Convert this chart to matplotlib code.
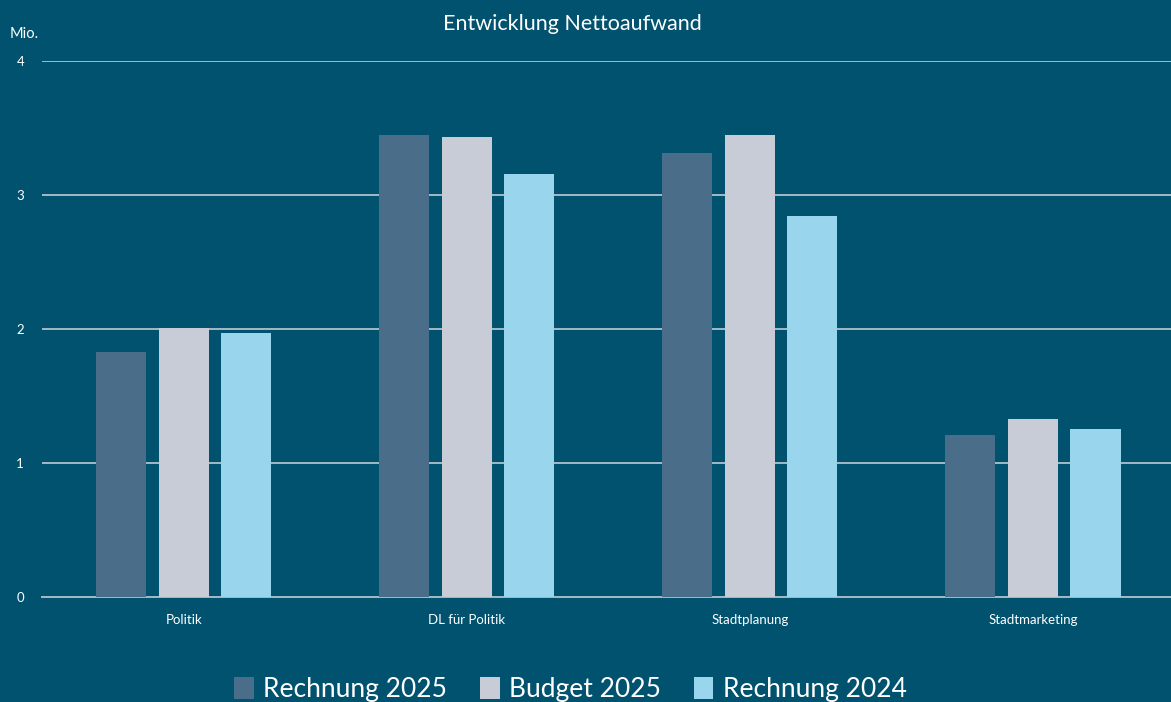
import numpy as np
import matplotlib
matplotlib.use("Agg")
import matplotlib.pyplot as plt

plt.rcParams["font.family"] = ["Lato", "DejaVu Sans"]

categories = ["Politik", "DL für Politik", "Stadtplanung", "Stadtmarketing"]
series_names = ["Rechnung 2025", "Budget 2025", "Rechnung 2024"]
rechnung_2025 = [1.83, 3.45, 3.31, 1.21]
budget_2025 = [2.01, 3.43, 3.45, 1.33]
rechnung_2024 = [1.97, 3.16, 2.84, 1.25]
yticks = [0, 1, 2, 3, 4]

bg = "#00526E"
colors = ["#4A6E89", "#C8CCD6", "#9AD5EE"]

fig = plt.figure(figsize=(11.71, 7.02), dpi=100, facecolor=bg)
ax = fig.add_axes([0.036, 0.1496, 0.967, 0.7635])
ax.set_facecolor(bg)

x = np.arange(len(categories))
w = 0.177
step = 0.221
for i, (vals, c, name) in enumerate(zip([rechnung_2025, budget_2025, rechnung_2024], colors, series_names)):
    ax.bar(x + (i - 1) * step, vals, width=w, color=c, label=name, zorder=3)

ax.set_xlim(-0.5, len(categories) - 0.5)
ax.set_ylim(0, 4)
ax.set_yticks(yticks)
ax.set_yticklabels([str(t) for t in yticks])
ax.set_xticks(x)
ax.set_xticklabels(categories)
ax.tick_params(axis="both", length=0, colors="white", labelsize=9.5)
ax.tick_params(axis="y", pad=13)
ax.tick_params(axis="x", pad=12)
for s in ax.spines.values():
    s.set_visible(False)
ax.grid(axis="y", color="#A3BAC6", lw=1.4, zorder=1)
ax.set_axisbelow(True)
ax.axhline(0, color="#A3BAC6", lw=1.4, zorder=2, clip_on=False)

fig.text(0.489, 0.966, "Entwicklung Nettoaufwand", ha="center", va="center", color="white", fontsize=15.5)
fig.text(0.008, 0.952, "Mio.", ha="left", va="center", color="white", fontsize=10.5)

leg = fig.legend(loc="center", bbox_to_anchor=(0.487, 0.018), ncol=3, frameon=False,
                 fontsize=19, handlelength=0.75, handleheight=0.95, handletextpad=0.35,
                 columnspacing=1.25, labelcolor="white")

fig.savefig("out.png", dpi=100, facecolor=bg)
